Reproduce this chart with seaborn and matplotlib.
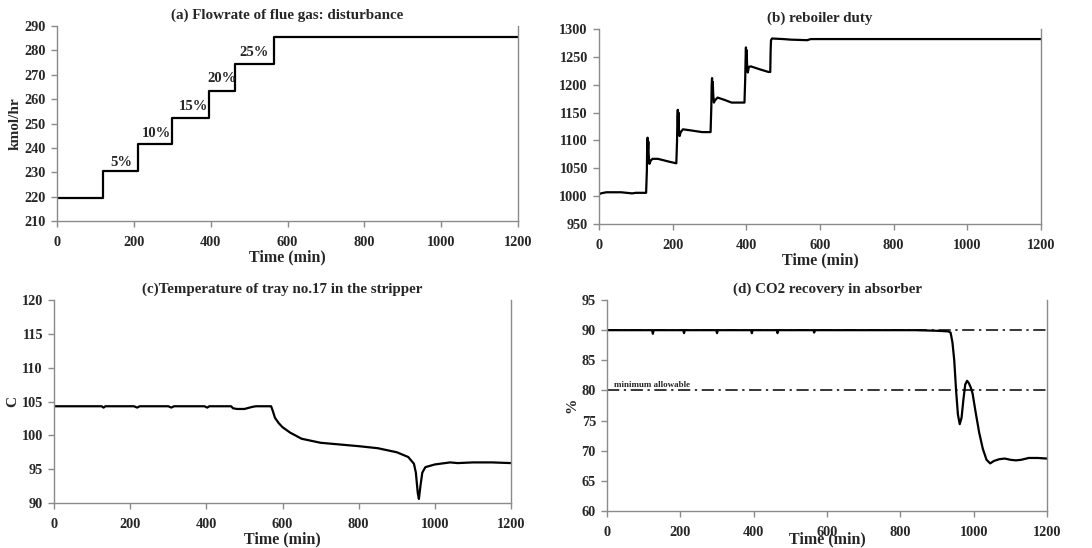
import numpy as np
import pandas as pd
import matplotlib
matplotlib.use("Agg")
import matplotlib.pyplot as plt
import seaborn as sns

# (a) flue gas flowrate steps
step_time = [0, 120, 210, 300, 395, 463, 565, 1200]
step_flow = [219.5, 230.5, 241.5, 252.3, 263.3, 274.3, 285.3, 285.3]
step_labels = ["5%", "10%", "15%", "20%", "25%"]
label_x = [167, 260, 354, 429, 513]
label_y = [234.2, 246.0, 256.8, 268.3, 279.3]

# (b) reboiler duty
time_b = [0, 5, 20, 60, 90, 100, 128, 130, 131, 132, 133, 134, 135, 137, 140, 145, 160, 190, 210,
          212, 213, 214, 215, 216, 217, 219, 222, 228, 250, 280, 303,
          305, 306, 307, 308, 309, 310, 312, 315, 322, 340, 360, 395,
          397, 398, 399, 400, 401, 402, 404, 407, 412, 440, 460, 465,
          466, 467, 470, 500, 520, 565, 575, 700, 1200]
duty_b = [1003, 1005, 1007, 1007, 1005, 1006, 1006, 1045, 1095, 1105, 1085, 1098, 1075, 1058, 1063, 1067, 1067, 1062, 1059,
          1100, 1140, 1155, 1125, 1150, 1120, 1108, 1115, 1120, 1118, 1115, 1115,
          1160, 1200, 1212, 1185, 1205, 1185, 1168, 1172, 1177, 1173, 1168, 1168,
          1210, 1245, 1267, 1240, 1262, 1238, 1222, 1232, 1233, 1227, 1223, 1223,
          1260, 1280, 1283, 1282, 1281, 1280, 1282, 1282, 1282]

# (c) tray 17 temperature
time_c = [0, 125, 130, 135, 210, 218, 225, 300, 308, 315, 395, 402, 408, 465, 470, 480, 500, 520, 530,
          565, 570, 575, 580, 590, 600, 620, 650, 700, 760, 800, 850, 900, 930, 945, 950,
          955, 958, 962, 967, 975, 1000, 1040, 1060, 1100, 1150, 1200]
temp_c = [104.3, 104.3, 104.1, 104.3, 104.3, 104.1, 104.3, 104.3, 104.1, 104.3, 104.3, 104.1, 104.3,
          104.3, 104.0, 103.9, 103.9, 104.2, 104.3,
          104.3, 104.3, 103.5, 102.6, 101.8, 101.2, 100.4, 99.5, 98.9, 98.6, 98.4, 98.1, 97.5, 96.8, 95.8, 94.5,
          91.5, 90.6, 92.5, 94.5, 95.3, 95.7, 96.0, 95.9, 96.0, 96.0, 95.9]

# (d) CO2 recovery
time_d = [0, 123, 125, 127, 208, 210, 212, 298, 300, 302, 393, 395, 397, 463, 465, 467, 563, 565, 567,
          840, 900, 930, 937, 942, 947, 952, 957, 962, 967, 972, 977, 982, 987, 992, 997,
          1005, 1015, 1025, 1035, 1045, 1055, 1070, 1085, 1100, 1115, 1130, 1150, 1175, 1200]
rec_d = [90, 90, 89.4, 90, 90, 89.5, 90, 90, 89.5, 90, 90, 89.5, 90, 90, 89.5, 90, 90, 89.6, 90,
         90, 89.9, 89.8, 89.6, 88, 85, 80, 76, 74.4, 75.5, 78.5, 81, 81.6, 81.2, 80.5, 79.5,
         76.5, 73, 70.3, 68.5, 67.9, 68.3, 68.6, 68.7, 68.5, 68.4, 68.5, 68.8, 68.8, 68.7]
target_lines = [90, 80]

sns.set_style("white")
plt.rcParams['font.family'] = ['Liberation Serif', 'DejaVu Serif']
plt.rcParams['font.weight'] = 'bold'

fig = plt.figure(figsize=(10.92, 5.48), dpi=100)
ax_a = fig.add_axes([0.0522, 0.5967, 0.4222, 0.3558])
ax_b = fig.add_axes([0.5485, 0.5912, 0.4048, 0.3558])
ax_c = fig.add_axes([0.0495, 0.0821, 0.4185, 0.3704])
ax_d = fig.add_axes([0.5559, 0.0675, 0.4029, 0.3850])

line_kw = dict(color="black", linewidth=1.6, estimator=None, sort=False)

sns.lineplot(x=step_time, y=step_flow, ax=ax_a, drawstyle="steps-post", **line_kw)
for lab, lx, ly in zip(step_labels, label_x, label_y):
    ax_a.text(lx, ly, lab, ha="center", va="center", fontsize=10.5, fontweight="bold")

sns.lineplot(x=time_b, y=duty_b, ax=ax_b, **line_kw)
sns.lineplot(x=time_c, y=temp_c, ax=ax_c, **line_kw)
sns.lineplot(x=time_d, y=rec_d, ax=ax_d, **line_kw)
for yv in target_lines:
    ax_d.axhline(yv, color="black", linewidth=1.1, linestyle=(0, (8, 3, 1.5, 3)))
ax_d.text(20, 80.9, "minimum allowable", fontsize=6.5, fontweight="bold", ha="left", va="center")

settings = [
    (ax_a, "(a) Flowrate of flue gas: disturbance", "kmol/hr", (210, 290), 10),
    (ax_b, "(b) reboiler duty", "", (950, 1300), 50),
    (ax_c, "(c)Temperature of tray no.17 in the stripper", "C", (90, 120), 5),
    (ax_d, "(d) CO2 recovery in absorber", "%", (60, 95), 5),
]
for ax, title, ylab, ylim, step in settings:
    ax.set_xlim(0, 1200)
    ax.set_ylim(*ylim)
    ax.set_xticks(np.arange(0, 1201, 200))
    ax.set_yticks(np.arange(ylim[0], ylim[1] + 0.1, step))
    ax.set_title(title, fontsize=10.8, fontweight="bold", pad=5)
    ax.set_ylabel(ylab, fontsize=11, fontweight="bold", labelpad=2)
    ax.set_xlabel("Time (min)", fontsize=11.5, fontweight="bold", labelpad=0)
    for side in ["left", "bottom", "right"]:
        ax.spines[side].set_color("#8a8a8a")
        ax.spines[side].set_linewidth(1.0)
    ax.spines["top"].set_visible(False)
    ax.tick_params(axis="both", direction="out", length=4, width=1, color="#8a8a8a",
                   labelsize=10.3, pad=4, left=True, bottom=True)
    ax.tick_params(axis="x", pad=7)
    for t in ax.get_xticklabels() + ax.get_yticklabels():
        t.set_fontweight("bold")

ax_d.set_xlabel("Time (min)", fontsize=11.5, fontweight="bold", labelpad=-6)

fig.savefig("out.png", dpi=100)
